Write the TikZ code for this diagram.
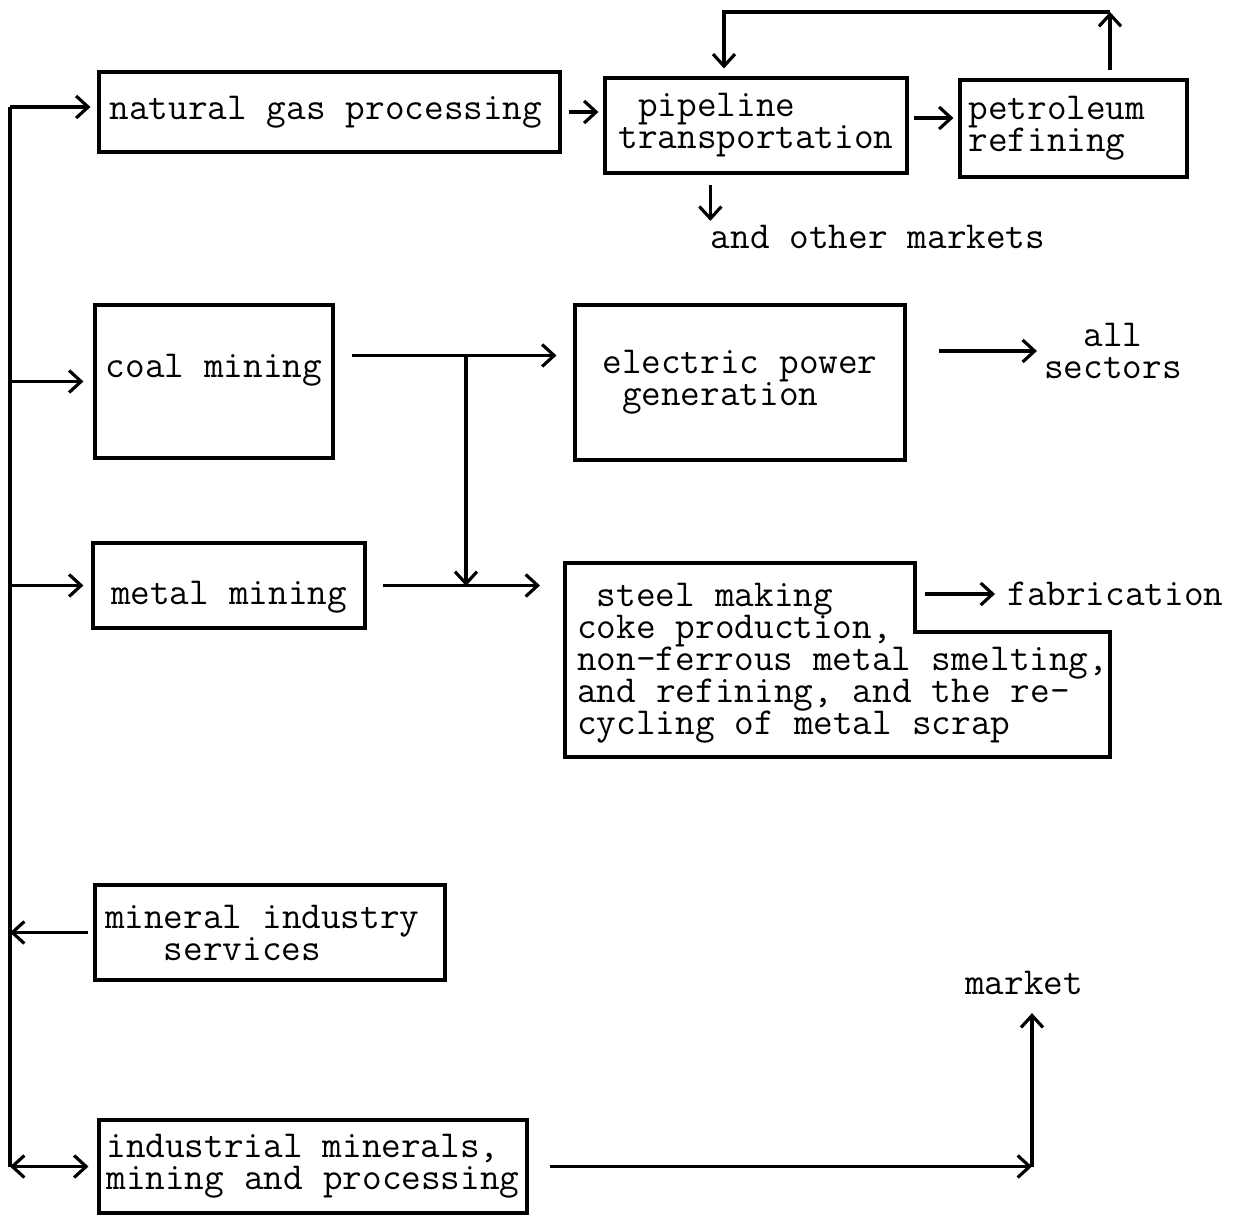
\documentclass[tikz,border=0pt]{standalone}
\usetikzlibrary{arrows.meta}
\DeclareRobustCommand{\typefont}{\ttfamily\fontsize{21.7pt}{18.2pt}\selectfont
  \lineskiplimit=-1em\relax}

\begin{document}
\begin{tikzpicture}[x=0.02cm, y=-0.02cm,
    >={Straight Barb[length=2.4mm,width=4.4mm]},
    every node/.style={font=\typefont, inner sep=0pt,
      execute at begin node={\spaceskip=0.525em\xspaceskip=0.525em\relax}},
    box/.style={draw, line width=1.8pt, align=left},
    flow/.style={->, line width=1.8pt}]
    \useasboundingbox (0,0) rectangle (1233,1216);

    \node[box, minimum width=9.22cm, minimum height=1.6cm, text width=8.8cm] (gas) at (329.5,112) {natural gas processing};
    \node[box, minimum width=6.04cm, minimum height=1.9cm] (pipeline) at (756,125.5) {\hphantom{x}pipeline\\transportation};
    \node[box, minimum width=4.54cm, minimum height=1.94cm, text width=4.2cm] (refining) at (1073.5,128.5) {petroleum\\refining};
    \node (markets) at (878,237) {and other markets};

    \node[box, minimum width=4.76cm, minimum height=3.06cm] (coal) at (214,381.5) {\raisebox{0.22cm}[\height][\depth]{coal mining}};
    \node[box, minimum width=6.6cm, minimum height=3.1cm] (power) at (740,382.5) {electric power\\\hphantom{x}generation};
    \node[align=center] (sectors) at (1113,351) {all\\sectors};

    \node[box, minimum width=5.44cm, minimum height=1.7cm] (metal) at (229,585.5) {\raisebox{-0.24cm}[\height][\depth]{metal mining}};
    \node[align=left, anchor=west] (steel) at (577,663) {\hphantom{x}steel making\\coke production,\\non-ferrous metal smelting,\\and refining, and the re-\\cycling of metal scrap};
    \draw[line width=1.8pt] (565,563) -- (915,563) -- (915,632) -- (1110,632) -- (1110,757) -- (565,757) -- cycle;
    \node[anchor=west] (fabrication) at (1007,594) {fabrication};

    \node[box, minimum width=7cm, minimum height=1.9cm, text width=6.6cm] (services) at (270,932.5) {mineral industry\\\hphantom{xxx}services};
    \node[box, minimum width=8.56cm, minimum height=1.86cm] (industrial) at (313,1166.5) {industrial minerals,\\mining and processing};
    \node (market) at (1024,983) {market};

    \coordinate (top) at (10,107);
    \coordinate (loop r) at (1110,12);
    \coordinate (loop l) at (724,12);
    \coordinate (split) at (466,355);
    \coordinate (steel in) at (540,586);
    \coordinate (step) at (915,594);
    \coordinate (corner) at (1032,1162);

    % left supply line
    \draw[line width=1.8pt] (top) -- (top |- industrial.west);
    \draw[flow, shorten >=0.14cm] (top) -- (top -| gas.west);
    \draw[flow, shorten >=0.2cm] (top |- coal.west) -- (coal.west);
    \draw[flow, shorten >=0.16cm] (top |- metal.west) -- (metal.west);
    \draw[flow, shorten <=0.1cm] (services.west) -- (top |- services.west);
    \draw[<->, line width=1.8pt, shorten >=0.18cm] (top |- industrial.west) -- (industrial.west);

    % gas and oil
    \draw[flow, shorten <=0.14cm, shorten >=0.1cm] (gas.east) -- (gas.east -| pipeline.west);
    \draw[flow, shorten <=0.1cm, shorten >=0.1cm] ([yshift=0.15cm]pipeline.east) -- ([yshift=0.15cm]pipeline.east -| refining.west);
    \draw[flow, shorten <=0.16cm] (refining.north -| loop r) -- (loop r);
    \draw[flow, shorten >=0.16cm] (loop r) -- (loop l) -- (loop l |- pipeline.north);
    \draw[flow, shorten <=0.2cm, shorten >=0.08cm] (markets.north west |- pipeline.south) -- (markets.north west);

    % coal and metals
    \draw[flow, shorten <=0.34cm, shorten >=0.34cm] ([yshift=0.52cm]coal.east) -- ([yshift=0.52cm]coal.east -| power.west);
    \draw[flow] (split) -- (split |- steel in);
    \draw[flow, shorten <=0.32cm] (metal.east) -- (metal.east -| steel in);
    \draw[flow, shorten <=0.64cm, shorten >=0.14cm] (sectors.west -| power.east) -- (sectors.west);
    \draw[flow, shorten <=0.2cm, shorten >=0.24cm] (fabrication.west -| step) -- (fabrication.west);

    % industrial minerals
    \draw[flow, shorten <=0.42cm] (industrial.east) -- (industrial.east -| corner);
    \draw[flow, shorten >=0.36cm] (industrial.east -| corner) -- (corner |- market.south);
\end{tikzpicture}
\end{document}
